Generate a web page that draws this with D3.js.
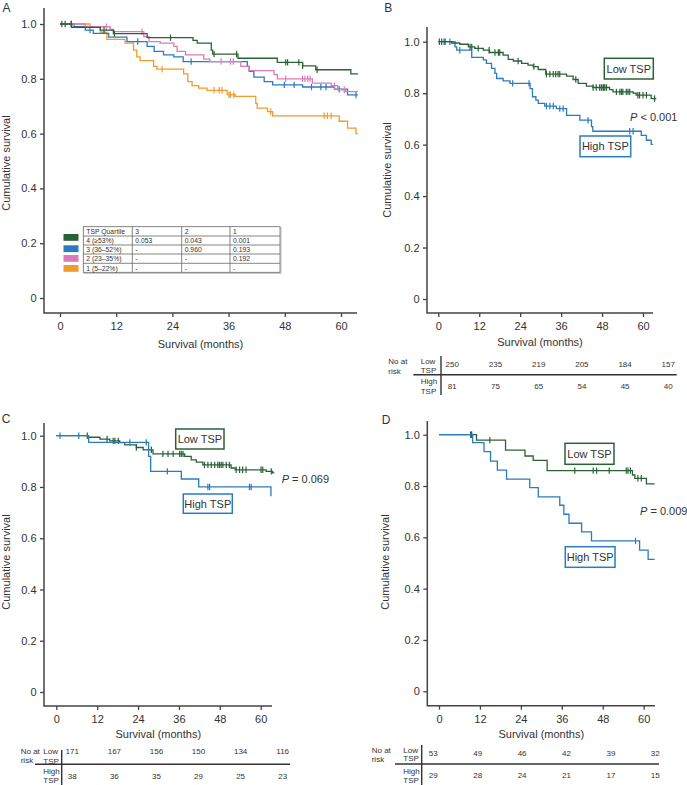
<!DOCTYPE html>
<html><head><meta charset="utf-8">
<script src="https://cdn.jsdelivr.net/npm/d3@7/dist/d3.min.js"></script>
<style>
body{margin:0;background:#fff}
svg text{font-family:"Liberation Sans",Arial,Helvetica,sans-serif;fill:#333}
</style>
</head><body>
<svg id="chart" width="687" height="785"></svg>
<script>
// ---------------- DATA ----------------
const monthTicks = [0, 12, 24, 36, 48, 60];
const survTicks = [0, 0.2, 0.4, 0.6, 0.8, 1.0];

// Panel A – TSP quartiles: [month, survival after step]
const aQ4 = [[0,1],[2.5,0.988],[8.6,0.978],[11.4,0.965],[18.6,0.95],[28.4,0.94],[29.3,0.93],[32.3,0.905],[32.6,0.89],[38,0.875],[46.4,0.86],[51.8,0.847],[54.6,0.833],[62.1,0.818],[63.6,0.818]];
const aQ4Cens = [0.4,1.1,2.4,9.4,11.6,23.6,32.9,37.7,48.2,48.6,51,51.8,54.9];
const aQ3 = [[0,1],[3,0.99],[5.4,0.978],[7.1,0.966],[10.4,0.952],[14.3,0.936],[18.6,0.918],[20.1,0.9],[22.1,0.887],[24.3,0.88],[26.3,0.863],[40,0.845],[40.4,0.827],[41.4,0.806],[43.6,0.79],[45.4,0.778],[51.8,0.77],[58.6,0.762],[61.4,0.741],[63.6,0.741]];
const aQ3Cens = [2.4,6.4,16.6,28,47.9,50,53.7,55.7,56.8,59.6,63.2];
const aQ2 = [[0,1],[5.4,0.99],[10.7,0.98],[11.4,0.972],[17.9,0.954],[19,0.936],[21.4,0.93],[24.3,0.918],[25,0.9],[26.8,0.887],[30.7,0.872],[32,0.863],[38.6,0.845],[40.4,0.83],[45.7,0.815],[46.4,0.8],[53.9,0.784],[57.9,0.775],[59.3,0.76],[61,0.753],[63.6,0.753]];
const aQ2Cens = [9.9,17.5,34.4,36.4,37,48.2,51.8,52.3,52.9,53.4,58.6,60.7];
const aQ1 = [[0,1],[6.4,0.99],[8.6,0.97],[10,0.944],[13.9,0.93],[15.7,0.905],[16.4,0.88],[17.1,0.866],[20,0.845],[20.7,0.835],[26.4,0.818],[27.3,0.79],[28.2,0.775],[29.6,0.766],[31.4,0.758],[35.7,0.742],[37.4,0.736],[41.8,0.71],[42.1,0.693],[44.3,0.68],[45.4,0.665],[59.6,0.645],[61.4,0.62],[63.2,0.6],[63.6,0.6]];
const aQ1Cens = [21.8,32.9,34,34.6,36.1,36.4,37.1,45,56.4,57.1,57.9];

const quartileLabels = ["4 (\u226553%)", "3 (36\u201352%)", "2 (23\u201335%)", "1 (5\u201322%)"];
const pHeader = ["TSP Quartile", "3", "2", "1"];
const pRows = [["0.053","0.043","0.001"],["-","0.960","0.193"],["-","-","0.192"],["-","-","-"]];

// Panel B
const bLow = [[0,1],[3.9,0.995],[6.3,0.99],[8.8,0.98],[10.7,0.974],[13.2,0.967],[15,0.958],[19,0.948],[20.5,0.931],[22,0.925],[24.4,0.916],[26.3,0.909],[27.8,0.903],[29.3,0.892],[31.5,0.874],[37.6,0.866],[39.5,0.853],[41,0.838],[43.4,0.827],[45.3,0.822],[50.2,0.814],[51.2,0.805],[57.1,0.8],[58,0.792],[62.4,0.779],[63.9,0.779]];
const bLowCens = [0.3,1,2,9.3,9.8,11.7,14.9,16.6,17.6,18,23.4,28,31.7,32.7,33.7,34.4,35.1,35.6,40.3,45.4,46.3,47.3,47.8,48.3,48.5,48.8,49.3,52.2,53.2,53.7,54.1,55.1,55.6,56.1,58.5,59,60,61,63.4];
const bHigh = [[0,1],[4.9,0.98],[5.4,0.967],[9.8,0.939],[13.2,0.929],[14.1,0.916],[15.6,0.896],[16.6,0.877],[17.1,0.857],[19,0.848],[21,0.838],[26.9,0.818],[27.6,0.786],[28.6,0.773],[29.3,0.76],[31.2,0.75],[34.6,0.74],[37.6,0.714],[41.5,0.695],[44.9,0.67],[45.3,0.652],[59.5,0.636],[61,0.617],[62.4,0.601],[62.9,0.601]];
const bHighCens = [1.7,3.4,6.3,21.8,26.6,31.7,32.7,33.7,35.6,36.6,43.9,56.1,57.1];
const bLowRisk = [250,235,219,205,184,157];
const bHighRisk = [81,75,65,54,45,40];

// Panel C
const cLow = [[0,1],[9.4,0.994],[12.8,0.987],[15.7,0.98],[18.6,0.973],[20.1,0.964],[23.5,0.954],[25.5,0.945],[28.4,0.929],[37.7,0.919],[39.6,0.906],[41.1,0.897],[43,0.886],[51.3,0.874],[52.5,0.867],[61.6,0.861],[63.5,0.855],[64,0.855]];
const cLowCens = [9.1,14.9,16.7,17.2,18.2,23.5,27.9,31.3,32.8,34.3,36.2,36.7,37.2,43.5,44.5,45.5,46.5,47.4,47.9,48.4,48.9,49.9,50.8,52.8,53.8,54.7,55.7,60.1,60.6,63.1];
const cHigh = [[0,1],[9.5,0.974],[27.1,0.919],[27.7,0.861],[36.7,0.831],[41.8,0.8],[63,0.764]];
const cHighCens = [1.1,6.6,21.6,26.4,32.6,44.5,45,56.7,57.2];
const cLowRisk = [171,167,156,150,134,116];
const cHighRisk = [38,36,35,29,25,23];

// Panel D
const dLow = [[0,1],[11,0.979],[19.5,0.94],[25.2,0.917],[27.6,0.9],[31.7,0.86],[56.7,0.843],[57.4,0.83],[60.8,0.808],[63.2,0.808]];
const dLowCens = [9.3,9.45,9.6,14.9,39.8,45.2,46.2,49.9,54.9,55.4,56.1,58.3,59.3];
const dHigh = [[0,1],[9.85,0.969],[13.2,0.934],[15.1,0.897],[17.1,0.862],[19.8,0.827],[26.6,0.794],[29.1,0.758],[35.4,0.725],[36.6,0.69],[38.1,0.655],[41.8,0.621],[44.7,0.586],[58.8,0.55],[61.3,0.514],[63.2,0.514]];
const dHighCens = [57.6];
const dLowRisk = [53,49,46,42,39,32];
const dHighRisk = [29,28,24,21,17,15];

// ---------------- STYLE ----------------
const GREEN = "#2a6236", BLUE = "#2a7bbf", PINK = "#df7ab8", ORANGE = "#f29a2e";
const AXIS = "#444";

const svg = d3.select("#chart");

function stepAt(steps, t) {
  let v = steps[0][1];
  for (const s of steps) { if (s[0] <= t) v = s[1]; else break; }
  return v;
}

function drawPanel(g) {
  const x = d3.scaleLinear().domain([0, 60]).range([g.x0, g.x60]);
  const y = d3.scaleLinear().domain([0, 1]).range([g.y0, g.y1]);
  const root = svg.append("g");

  const xa = root.append("g").attr("transform", `translate(0,${g.xAxisY})`)
    .call(d3.axisBottom(x).tickValues(monthTicks).tickSize(4).tickPadding(5.5).tickFormat(d => d));
  const ya = root.append("g").attr("transform", `translate(${g.yAxisX},0)`)
    .call(d3.axisLeft(y).tickValues(survTicks).tickSize(4).tickPadding(3.5).tickFormat(d => d === 0 ? "0" : d.toFixed(1)));
  [xa, ya].forEach(a => {
    a.select(".domain").remove();
    a.selectAll(".tick line").attr("stroke", AXIS).attr("stroke-width", 1.3);
    a.selectAll(".tick text").attr("fill", "#333").style("font-size", "11px")
      .style("font-family", "'Liberation Sans',Arial,sans-serif");
  });
  root.append("path")
    .attr("d", `M${g.yAxisX},${g.yTop}V${g.xAxisY}H${g.xEnd}`)
    .attr("fill", "none").attr("stroke", AXIS).attr("stroke-width", 1.5);

  root.append("text").attr("x", g.xLabelX).attr("y", g.xLabelY).attr("text-anchor", "middle")
    .style("font-size", "11px").text("Survival (months)");
  root.append("text").attr("transform", `translate(${g.yLabelX},${g.yLabelY}) rotate(-90)`)
    .attr("text-anchor", "middle").style("font-size", "11px").text("Cumulative survival");
  root.append("text").attr("x", g.letterX).attr("y", g.letterY).style("font-size", "12px").text(g.letter);

  const line = d3.line().x(d => x(d[0])).y(d => y(d[1])).curve(d3.curveStepAfter);
  g.curves.forEach(c => {
    root.append("path").attr("d", line(c.steps)).attr("fill", "none")
      .attr("stroke", c.color).attr("stroke-width", 1.3);
    root.append("g").selectAll("line").data(c.cens).join("line")
      .attr("x1", d => x(d)).attr("x2", d => x(d))
      .attr("y1", d => y(stepAt(c.steps, d)) - 3.2).attr("y2", d => y(stepAt(c.steps, d)) + 3.2)
      .attr("stroke", c.color).attr("stroke-width", 1.2);
  });

  (g.boxes || []).forEach(b => {
    root.append("rect").attr("x", b.x).attr("y", b.y).attr("width", b.w).attr("height", b.h)
      .attr("fill", "#fff").attr("stroke", b.color).attr("stroke-width", 1.5);
    root.append("text").attr("x", b.x + b.w / 2).attr("y", b.y + b.h / 2 + 4)
      .attr("text-anchor", "middle").style("font-size", "11px").text(b.text);
  });
  if (g.p) {
    const t = root.append("text").attr("x", g.p.x).attr("y", g.p.y).style("font-size", "11px");
    t.append("tspan").style("font-style", "italic").text("P");
    t.append("tspan").text(g.p.text);
  }

  if (g.risk) {
    const r = g.risk;
    const rx = d3.scaleLinear().domain([0, 5]).range([r.first, r.last]);
    const fs = "8px";
    root.append("text").attr("x", r.noX).attr("y", r.noY1).style("font-size", fs).text("No at");
    root.append("text").attr("x", r.noX).attr("y", r.noY2).style("font-size", fs).text("risk");
    root.append("text").attr("x", r.grpX).attr("y", r.lowY1).style("font-size", fs).text("Low");
    root.append("text").attr("x", r.grpX).attr("y", r.lowY2).style("font-size", fs).text("TSP");
    root.append("text").attr("x", r.grpX).attr("y", r.highY1).style("font-size", fs).text("High");
    root.append("text").attr("x", r.grpX).attr("y", r.highY2).style("font-size", fs).text("TSP");
    root.append("line").attr("x1", r.vx).attr("x2", r.vx).attr("y1", r.vy1).attr("y2", r.vy2)
      .attr("stroke", "#333").attr("stroke-width", 1.4);
    root.append("line").attr("x1", r.hx1).attr("x2", r.hx2).attr("y1", r.hy).attr("y2", r.hy)
      .attr("stroke", "#333").attr("stroke-width", 1.4);
    root.append("g").selectAll("text").data(r.low).join("text")
      .attr("x", (d, i) => rx(i)).attr("y", r.lowNumY).attr("text-anchor", "middle").style("font-size", fs).text(d => d);
    root.append("g").selectAll("text").data(r.high).join("text")
      .attr("x", (d, i) => rx(i)).attr("y", r.highNumY).attr("text-anchor", "middle").style("font-size", fs).text(d => d);
  }
  return root;
}

// Panel A
drawPanel({
  letter: "A", letterX: 2.5, letterY: 11.7,
  x0: 60, x60: 341, y0: 298, y1: 24, yAxisX: 44, xAxisY: 313, yTop: 8, xEnd: 357,
  xLabelX: 200.5, xLabelY: 348, yLabelX: 10, yLabelY: 163,
  curves: [
    {steps: aQ1, cens: aQ1Cens, color: ORANGE},
    {steps: aQ3, cens: aQ3Cens, color: BLUE},
    {steps: aQ2, cens: aQ2Cens, color: PINK},
    {steps: aQ4, cens: aQ4Cens, color: GREEN}
  ]
});

// legend table in A
(function () {
  const colX = [83.3, 132.3, 181.7, 230, 280];
  const rowY = [226.7, 236, 245, 254, 263.3, 272.3];
  const swatchY = [234, 245.3, 255, 265];
  const swatch = [GREEN, BLUE, PINK, ORANGE];
  const tg = svg.append("g");
  tg.append("rect").attr("x", colX[0] + 1).attr("y", rowY[0] + 1).attr("width", colX[4] - colX[0]).attr("height", rowY[5] - rowY[0])
    .attr("fill", "none").attr("stroke", "#bbb").attr("stroke-width", 1);
  tg.append("rect").attr("x", colX[0]).attr("y", rowY[0]).attr("width", colX[4] - colX[0]).attr("height", rowY[5] - rowY[0])
    .attr("fill", "#fff").attr("stroke", "#666").attr("stroke-width", 0.8);
  rowY.slice(1, 5).forEach(yy => tg.append("line").attr("x1", colX[0]).attr("x2", colX[4]).attr("y1", yy).attr("y2", yy)
    .attr("stroke", "#666").attr("stroke-width", 0.8));
  colX.slice(1, 4).forEach(xx => tg.append("line").attr("x1", xx).attr("x2", xx).attr("y1", rowY[0]).attr("y2", rowY[5])
    .attr("stroke", "#666").attr("stroke-width", 0.8));
  pHeader.forEach((t, i) => tg.append("text").attr("x", colX[i] + 3).attr("y", rowY[0] + 7.3).style("font-size", "6.8px").text(t));
  quartileLabels.forEach((t, r) => {
    tg.append("rect").attr("x", 63.5).attr("y", swatchY[r]).attr("width", 15).attr("height", 6.8).attr("fill", swatch[r]);
    tg.append("text").attr("x", colX[0] + 3).attr("y", rowY[r + 1] + 7.3).style("font-size", "6.8px").text(t);
    pRows[r].forEach((v, c) => tg.append("text").attr("x", colX[c + 1] + 3).attr("y", rowY[r + 1] + 7.3).style("font-size", "6.8px").text(v));
  });
})();

// Panel B
drawPanel({
  letter: "B", letterX: 384.3, letterY: 11.7,
  x0: 438.3, x60: 643, y0: 299, y1: 41.7, yAxisX: 427, xAxisY: 313, yTop: 27, xEnd: 653,
  xLabelX: 540, xLabelY: 346, yLabelX: 391, yLabelY: 170,
  curves: [
    {steps: bHigh, cens: bHighCens, color: BLUE},
    {steps: bLow, cens: bLowCens, color: GREEN}
  ],
  boxes: [
    {x: 604.3, y: 58.3, w: 49, h: 20.7, color: GREEN, text: "Low TSP"},
    {x: 580, y: 136, w: 50.7, h: 20.7, color: BLUE, text: "High TSP"}
  ],
  p: {x: 630, y: 121, text: " < 0.001"},
  risk: {low: bLowRisk, high: bHighRisk, first: 452.3, last: 668.3,
    noX: 388.3, noY1: 364, noY2: 374, grpX: 420.7, lowY1: 364, lowY2: 372.5, highY1: 384.3, highY2: 394,
    vx: 441, vy1: 356, vy2: 395, hx1: 413.3, hx2: 676.7, hy: 374.7, lowNumY: 366.7, highNumY: 389.3}
});

// Panel C
drawPanel({
  letter: "C", letterX: 1.7, letterY: 422.7,
  x0: 56.3, x60: 260.7, y0: 692, y1: 435.7, yAxisX: 44, xAxisY: 706, yTop: 423, xEnd: 272,
  xLabelX: 158.3, xLabelY: 737.7, yLabelX: 10, yLabelY: 562,
  curves: [
    {steps: cLow, cens: cLowCens, color: GREEN},
    {steps: cHigh, cens: cHighCens, color: BLUE}
  ],
  boxes: [
    {x: 175.7, y: 429, w: 48.3, h: 20, color: GREEN, text: "Low TSP"},
    {x: 183.3, y: 494, w: 49, h: 19.3, color: BLUE, text: "High TSP"}
  ],
  p: {x: 281.7, y: 483.3, text: " = 0.069"},
  risk: {low: cLowRisk, high: cHighRisk, first: 72.3, last: 282.7,
    noX: 20.7, noY1: 754, noY2: 763.3, grpX: 43.3, lowY1: 754, lowY2: 763.5, highY1: 774, highY2: 783.3,
    vx: 61.7, vy1: 750, vy2: 785, hx1: 35, hx2: 290, hy: 764.3, lowNumY: 754, highNumY: 779}
});

// Panel D
drawPanel({
  letter: "D", letterX: 381.7, letterY: 424,
  x0: 439, x60: 643.7, y0: 691.3, y1: 434.7, yAxisX: 427.3, xAxisY: 705.7, yTop: 421, xEnd: 655,
  xLabelX: 541.3, xLabelY: 737.7, yLabelX: 389, yLabelY: 562,
  curves: [
    {steps: dLow, cens: dLowCens, color: GREEN},
    {steps: dHigh, cens: dHighCens, color: BLUE}
  ],
  boxes: [
    {x: 565, y: 443.3, w: 49, h: 21, color: GREEN, text: "Low TSP"},
    {x: 565.3, y: 546.7, w: 49.7, h: 20.6, color: BLUE, text: "High TSP"}
  ],
  p: {x: 640, y: 515, text: " = 0.009"},
  risk: {low: dLowRisk, high: dHighRisk, first: 433.3, last: 655.3,
    noX: 371.7, noY1: 752.7, noY2: 762.3, grpX: 403.3, lowY1: 752.7, lowY2: 761, highY1: 774, highY2: 782.7,
    vx: 421.7, vy1: 745, vy2: 785, hx1: 395, hx2: 659, hy: 764, lowNumY: 756, highNumY: 777.7}
});
</script>
</body></html>
